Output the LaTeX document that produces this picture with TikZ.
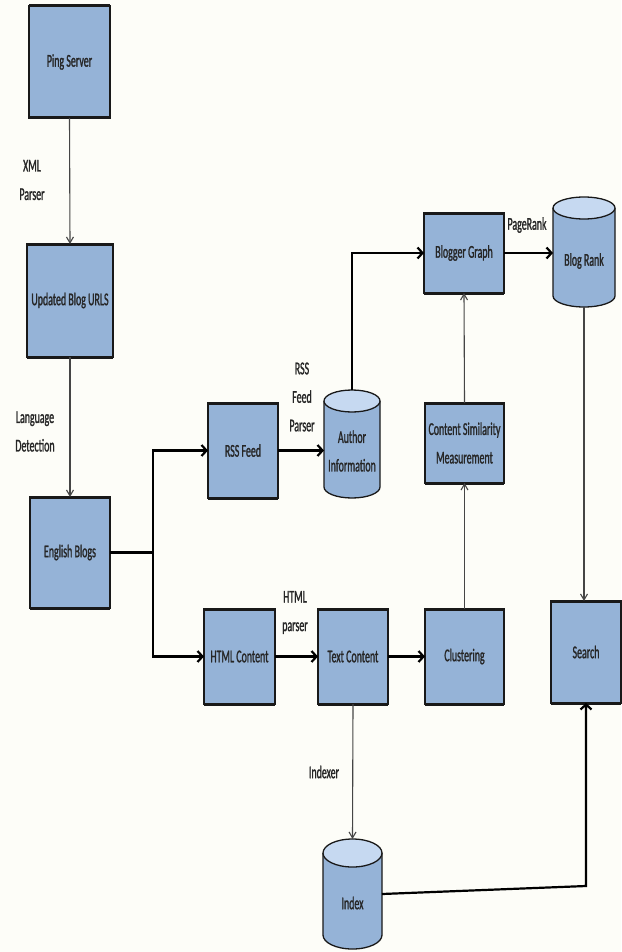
\documentclass[tikz,border=0pt]{standalone}
\usepackage{fontspec}
\setmainfont[FakeStretch=0.55, FakeBold=1.2]{Carlito}
\usetikzlibrary{arrows.meta,calc}

\definecolor{boxblue}{HTML}{95B3D7}
\definecolor{capblue}{HTML}{C6D9F1}
\definecolor{paper}{HTML}{FDFDF8}
\definecolor{thingray}{HTML}{454545}

% database drum drawn inside the frame of an empty node:
% #1 node name, #2 horizontal radius, #3 vertical radius of the end ellipses
\newcommand\dbdrum[3]{%
  \path[fill=boxblue, draw=black!90, line width=1.3pt]
    ($(#1.north west)+(0,#3)$) -- ($(#1.south west)-(0,#3)$)
    arc[start angle=180, end angle=0, x radius=#2, y radius=#3]
    -- ($(#1.north east)+(0,#3)$);
  \path[fill=capblue, draw=black!90, line width=1.3pt]
    ($(#1.north)+(0,#3)$) ellipse[x radius=#2, y radius=#3];
}

\begin{document}
\begin{tikzpicture}[x=1pt, y=-1pt,
  every node/.style={font=\fontsize{18}{28.5}\selectfont, text=black!85},
  box/.style={draw=black!90, line width=1.2pt, fill=boxblue,
    inner sep=0pt, outer sep=0pt, align=center},
  drumbox/.style={inner sep=0pt, outer sep=0pt},
  lbl/.style={align=center, inner sep=0pt},
  heavy/.style={line width=2.2pt, -{Straight Barb[length=5pt,width=11pt]}},
  plain/.style={line width=2.2pt},
  light/.style={draw=thingray, line width=1.1pt, -{Straight Barb[length=6pt,width=7pt]}}]

\useasboundingbox (0,0) rectangle (621,952);
\fill[paper] (0,0) rectangle (621,952);

% process boxes
\node[box, minimum width=81pt, minimum height=112pt] (ping) at (69.5,62) {Ping Server};
\node[box, minimum width=86pt, minimum height=113pt] (urls) at (70,300.5) {Updated Blog URLS};
\node[box, minimum width=80pt, minimum height=111pt] (eng) at (70,552.5) {English Blogs};
\node[box, minimum width=70pt, minimum height=95pt] (rss) at (243,450.5) {RSS Feed};
\node[box, minimum width=71pt, minimum height=95pt] (html) at (239.5,656.5) {HTML Content};
\node[box, minimum width=70pt, minimum height=95pt] (txt) at (353,656.5) {Text Content};
\node[box, minimum width=79pt, minimum height=95pt] (clus) at (464.5,656.5) {Clustering};
\node[box, minimum width=79pt, minimum height=80pt] (csm) at (464.5,443) {Content Similarity\\Measurement};
\node[box, minimum width=80pt, minimum height=80pt] (bg) at (464,253) {Blogger Graph};
\node[box, minimum width=70pt, minimum height=102pt] (search) at (586,652) {Search};

% heavier top and bottom edges of the boxes
\foreach \n in {ping,urls,eng,rss,html,txt,clus,csm,bg,search}
  \draw[line width=3pt, black!90] (\n.north west) -- (\n.north east)
                                  (\n.south west) -- (\n.south east);

% data stores
\node[drumbox, minimum width=56pt, minimum height=108pt] (auth) at (352,444) {};
\dbdrum{auth}{28}{11}
\node[lbl] (authtext) at (352,451) {Author\\Information};

\node[drumbox, minimum width=62pt, minimum height=110pt] (rank) at (584,252) {};
\dbdrum{rank}{31}{11}
\node[lbl] (ranktext) at (584,261) {Blog Rank};

\node[drumbox, minimum width=59pt, minimum height=110pt] (index) at (352.5,894) {};
\dbdrum{index}{29.5}{14}
\node[lbl] (indextext) at (352.5,903) {Index};

% edge labels
\node[lbl] (xmlp) at (32,180) {XML\\Parser};
\node[lbl] (lang) at (35,431.5) {Language\\Detection};
\node[lbl] (rssp) at (302,397) {RSS\\Feed\\Parser};
\node[lbl] (htmlp) at (295,612.5) {HTML\\parser};
\node[lbl] (prank) at (527,225) {PageRank};
\node[lbl] (idxr) at (324,772) {Indexer};

% thin connectors
\draw[light] (ping.south) -- (urls.north);
\draw[light] (urls.south) -- (eng.north);
\draw[light] (clus.north) -- (csm.south);
\draw[light] (csm.north) -- (bg.south);
\draw[light] (rank.south) -- (rank.south |- search.north);
\draw[light] (txt.south) -- (index.north);

% heavy connectors
\coordinate (split) at (153,552.5);
\draw[plain] (eng.east) -- (split);
\draw[heavy] (split) |- (rss.west);
\draw[heavy] (split) |- (html.west);
\draw[heavy] (rss.east) -- (rss.east -| auth.west);
\draw[heavy] (auth.north) |- (bg.west);
\draw[heavy] (bg.east) -- (bg.east -| rank.west);
\draw[heavy] (html.east) -- (txt.west);
\draw[heavy] (txt.east) -- (clus.west);
\coordinate (turn) at (586,886);
\draw[heavy] (index.east) -- (turn) -- (search.south);

\end{tikzpicture}
\end{document}
